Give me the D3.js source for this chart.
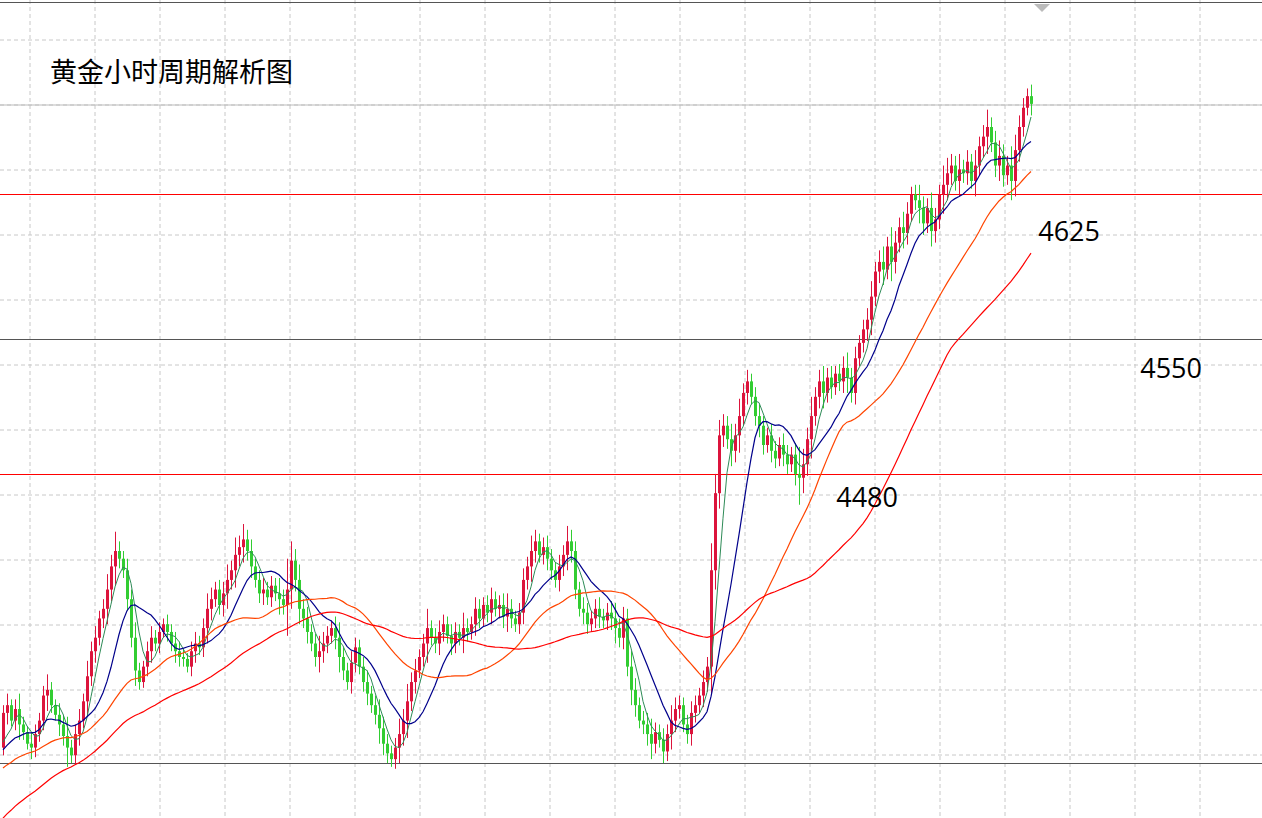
<!DOCTYPE html>
<html><head><meta charset="utf-8">
<script src="https://cdn.jsdelivr.net/npm/d3@7/dist/d3.min.js"></script>
<style>body{margin:0;background:#fff}svg{display:block}</style></head>
<body><svg id="c" width="1262" height="818"></svg>
<script>
const title = "黄金小时周期解析图";
const history = [4200,4205,4198,4210,4215,4208,4220,4225,4218,4230,4235,4228,4240,4236,4245,4250,4244,4252,4258,4250,4262,4266,4260,4270,4274,4268,4278,4282,4276,4286,4290,4284,4292,4296,4290,4300,4304,4298,4306,4310,4304,4312,4316,4310,4318,4322,4316,4324,4328,4320,4326,4330,4324,4332,4336,4330,4326,4334,4338,4332,4328,4336,4340,4334,4330,4338,4342,4336,4332,4338];
const closes = [
4356,4360,4352,4358,4350,4346,4340,4338,4345,4352,
4365,4368,4360,4355,4350,4344,4338,4334,4345,4352,
4362,4375,4388,4395,4405,4410,4420,4432,4440,4436,
4430,4415,4395,4378,4372,4380,4388,4395,4392,4398,
4402,4398,4392,4388,4385,4384,4380,4388,4392,4390,
4400,4410,4415,4420,4412,4418,4425,4430,4438,4442,
4446,4440,4432,4425,4418,4420,4416,4422,4418,4415,
4412,4420,4435,4425,4410,4405,4398,4392,4385,4388,
4392,4396,4400,4395,4385,4378,4372,4382,4390,4380,
4372,4366,4360,4355,4348,4340,4335,4332,4338,4345,
4352,4362,4372,4378,4385,4392,4400,4395,4392,4398,
4402,4396,4392,4398,4395,4400,4398,4402,4410,4405,
4412,4408,4415,4410,4412,4406,4410,4405,4402,4408,
4425,4432,4440,4445,4438,4442,4436,4430,4425,4432,
4438,4445,4440,4420,4410,4408,4402,4405,4410,4406,
4404,4408,4405,4400,4395,4405,4380,4368,4360,4352,
4350,4345,4340,4346,4342,4336,4345,4352,4358,4360,
4350,4345,4356,4360,4365,4372,4380,4430,4470,4500,
4505,4498,4492,4500,4510,4522,4528,4520,4510,4505,
4495,4500,4492,4488,4495,4490,4485,4490,4480,4478,
4485,4498,4510,4520,4528,4522,4530,4525,4532,4528,
4535,4530,4522,4540,4548,4555,4560,4572,4585,4590,
4586,4598,4590,4600,4608,4605,4615,4625,4622,4618,
4610,4618,4606,4612,4625,4630,4636,4640,4632,4638,
4636,4642,4632,4640,4650,4655,4660,4652,4640,4645,
4635,4640,4632,4648,4660,4670,4676,4672];
const wicks = [4,6,3,5,8,4,3,6,5,4, 5,8,4,3,6,5,10,4,5,6, 4,8,5,6,4,5,8,6,10,5, 4,6,5,8,4,3,5,6,4,5, 3,5,4,6,5,4,3,5,6,4, 5,8,6,4,5,6,8,5,9,6, 8,5,6,4,5,6,4,5,4,8, 5,16,10,6,8,5,6,4,5,8, 6,5,4,6,8,5,4,6,5,4, 5,6,4,5,8,6,5,4,5,8, 6,9,5,6,4,5,10,4,5,6, 5,4,6,5,4,8,5,4,6,5, 4,5,6,4,5,6,8,5,4,5, 6,5,8,6,4,5,6,5,4,6, 5,8,6,5,4,6,5,4,5,6, 4,5,6,8,5,6,5,8,6,4, 5,6,8,5,4,6,5,8,6,5, 4,5,6,5,4,6,5,14,10,8, 6,5,8,6,9,5,6,4,5,6, 5,4,6,5,4,6,5,4,6,14, 8,6,10,5,6,8,5,6,4,5, 6,8,5,6,4,5,6,8,5,6, 8,5,10,6,5,8,6,4,5,8, 6,5,8,6,5,10,8,6,5,8, 5,6,4,8,5,6,9,5,6,8, 6,5,10,8,6,5,4,6];
const maPeriods = [5, 12, 33, 60];
const maColors = ["#2e8b57", "#00008b", "#ff4500", "#ff0000"];
const levels = [{p:4625,c:"#ff0000"},{p:4550,c:"#555"},{p:4480,c:"#ff0000"},{p:4330,c:"#555"}];
const labels = [{t:"4625",p:4601,i:258.8},{t:"4550",p:4530,i:284.3},{t:"4480",p:4463,i:208.3}];

const svg = d3.select("#c");
const W=1262,H=818;
const x = d3.scaleLinear().domain([0, closes.length-1]).range([3, 1031]);
const y = d3.scaleLinear().domain([4330, 4550]).range([763, 339]);

const g = svg.append("g");
d3.range(30, W, 65).forEach(v=>g.append("line").attr("x1",v).attr("x2",v).attr("y1",0).attr("y2",H).attr("stroke","#c8c8c8").attr("stroke-dasharray","4,3"));
d3.range(40, H, 65).forEach(v=>g.append("line").attr("x1",0).attr("x2",W).attr("y1",v).attr("y2",v).attr("stroke","#c8c8c8").attr("stroke-dasharray","4,3"));
g.append("line").attr("x1",0).attr("x2",W).attr("y1",2.5).attr("y2",2.5).attr("stroke","#555");
g.append("line").attr("x1",0).attr("x2",W).attr("y1",105).attr("y2",105).attr("stroke","#bbb");
levels.forEach(l=>g.append("line").attr("x1",0).attr("x2",W).attr("y1",Math.round(y(l.p))+0.5).attr("y2",Math.round(y(l.p))+0.5).attr("stroke",l.c).attr("stroke-width",1.2));
svg.append("path").attr("d","M1034,4 L1050,4 L1042,12 Z").attr("fill","#bbb");

const data = closes.map((c,i)=>{
  const o = i===0 ? history[history.length-1] : closes[i-1];
  const w = wicks[i] ?? 4;
  return {i,o,c,h:Math.max(o,c)+w,l:Math.min(o,c)-w};
});
const cg = svg.append("g");
data.forEach(d=>{
  const col = d.c>=d.o ? "#dc143c" : "#32cd32";
  const cx = Math.round(x(d.i))+0.5;
  cg.append("line").attr("x1",cx).attr("x2",cx).attr("y1",y(d.h)).attr("y2",y(d.l)).attr("stroke",col);
  const t=Math.min(y(d.o),y(d.c)), b=Math.max(y(d.o),y(d.c));
  cg.append("rect").attr("x",cx-1.5).attr("y",t).attr("width",3).attr("height",Math.max(1,b-t)).attr("fill",col);
});

const all = history.concat(closes);
const off = history.length;
maPeriods.forEach((p,k)=>{
  const pts = closes.map((_,i)=>{
    const j=i+off; const s=all.slice(j-p+1,j+1); return [x(i), y(d3.mean(s))];
  });
  svg.append("path").attr("d",d3.line()(pts)).attr("fill","none").attr("stroke",maColors[k]).attr("stroke-width",k===0?1:1.2);
});

svg.append("text").attr("x",50).attr("y",82).text(title).attr("font-family","Noto Sans CJK SC").attr("font-size",27).attr("fill","#000");
labels.forEach(l=>svg.append("text").attr("x",x(l.i)).attr("y",y(l.p)).text(l.t).attr("font-family","Open Sans, Noto Sans").attr("font-size",27).attr("fill","#000"));
</script></body></html>
